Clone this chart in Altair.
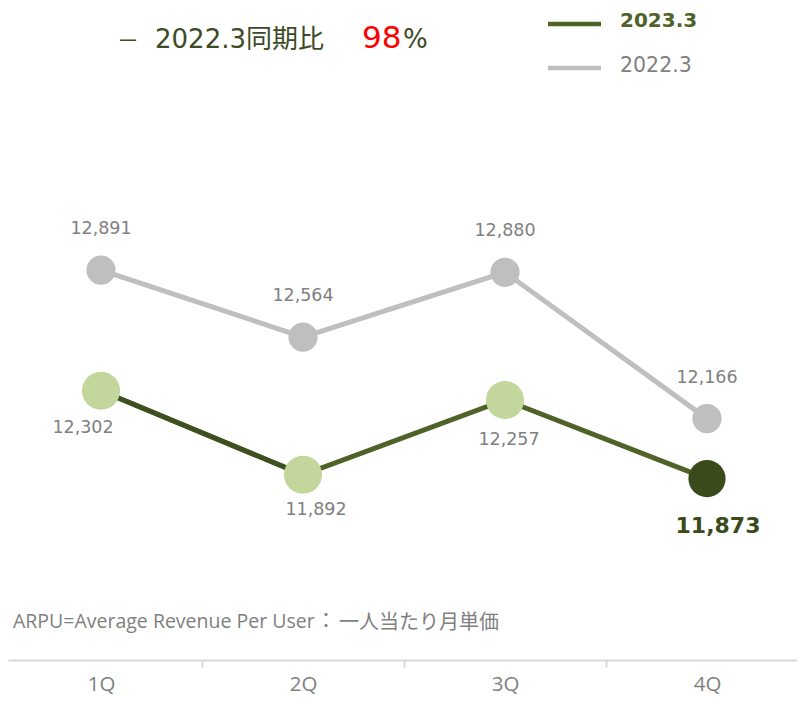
import json
import altair as alt
import pandas as pd

quarters = ["1Q", "2Q", "3Q", "4Q"]
arpu_2023 = [12302, 11892, 12257, 11873]
arpu_2022 = [12891, 12564, 12880, 12166]
series_names = ["2023.3", "2022.3"]

rows = []
for i, q in enumerate(quarters):
    rows.append({"quarter": q, "idx": i, "series": series_names[0], "value": arpu_2023[i]})
    rows.append({"quarter": q, "idx": i, "series": series_names[1], "value": arpu_2022[i]})
df = pd.DataFrame(rows)
df["label"] = df["value"].map(lambda v: f"{v:,}")

GRAY = "#bfbfbf"
OLIVE = "#4f6228"
OLIVE_DARK = "#3f5020"
DARKEST = "#3a4a1b"
LIGHT = "#c3d69b"
TXT = "#808080"

W, H = 789, 652

x_enc = alt.X(
    "idx:Q",
    scale=alt.Scale(domain=[-93 / 202, (W - 93) / 202], nice=False, zero=False),
    axis=alt.Axis(
        values=list(range(len(quarters))),
        labelExpr=f"{json.dumps(quarters)}[datum.value]",
        title=None,
        grid=False,
        tickOffset=-101,
        labelOffset=101,
        tickSize=7,
        tickWidth=2,
        tickColor="#d9d9d9",
        domainColor="#d9d9d9",
        domainWidth=2,
        labelFont="Open Sans",
        labelFontSize=20.5,
        labelColor=TXT,
        labelPadding=7,
    ),
)
y_enc = alt.Y("value:Q", scale=alt.Scale(domain=[10988, 14170], nice=False, zero=False), axis=None)

base = alt.Chart(df).encode(x=x_enc, y=y_enc)
s23 = alt.datum.series == series_names[0]
s22 = alt.datum.series == series_names[1]

line22 = base.transform_filter(s22).mark_line(color=GRAY, strokeWidth=5)
line23 = base.transform_filter(s23).mark_line(color=OLIVE, strokeWidth=5)
line23a = base.transform_filter(s23).transform_filter(alt.datum.idx <= 1).mark_line(color=OLIVE_DARK, strokeWidth=5)
pts22 = base.transform_filter(s22).mark_circle(color=GRAY, size=855, opacity=1)
pts23 = base.transform_filter(s23).transform_filter(alt.datum.idx < 3).mark_circle(color=LIGHT, size=1452, opacity=1)
pts23last = base.transform_filter(s23).transform_filter(alt.datum.idx == 3).mark_circle(color=DARKEST, size=1385, opacity=1)

lab22 = base.transform_filter(s22).mark_text(
    dy=-36, baseline="alphabetic", font="DejaVu Sans", fontSize=17.5, color=TXT
).encode(text="label:N")

offs = [(-18, 42), (13, 40), (4, 45)]
lab23 = []
for i, (dx, dy) in enumerate(offs):
    lab23.append(
        base.transform_filter(s23).transform_filter(alt.datum.idx == i).mark_text(
            dx=dx, dy=dy, baseline="alphabetic", font="DejaVu Sans", fontSize=17.5, color=TXT
        ).encode(text="label:N")
    )
lab23.append(
    base.transform_filter(s23).transform_filter(alt.datum.idx == 3).mark_text(
        dx=11, dy=54, baseline="alphabetic", font="DejaVu Sans", fontSize=22, fontWeight="bold", color=DARKEST
    ).encode(text="label:N")
)


def note(text, x, y, align="left", **kw):
    return alt.Chart(pd.DataFrame({"t": [text]})).mark_text(align=align, baseline="alphabetic", **kw).encode(
        x=alt.value(x), y=alt.value(y), text="t:N"
    )


sub_dash = note("－", 109, 40, font="Noto Sans CJK JP", fontSize=22, color="#3d4a26")
sub_text = note("2022.3同期比", 147, 40, font="DejaVu Sans, Noto Sans CJK JP", fontSize=26, color="#3d4a26")
sub_num = note("98", 354, 40, font="DejaVu Sans", fontSize=31, color="#ff0000")
sub_pct = note("%", 395, 40, font="DejaVu Sans", fontSize=26, color="#3d4a26")

leg_rule1 = alt.Chart(pd.DataFrame({"s": [series_names[0]]})).mark_rule(color=OLIVE, strokeWidth=4.5).encode(
    x=alt.value(540), x2=alt.value(593), y=alt.value(16)
)
leg_rule2 = alt.Chart(pd.DataFrame({"s": [series_names[1]]})).mark_rule(color=GRAY, strokeWidth=4.5).encode(
    x=alt.value(540), x2=alt.value(593), y=alt.value(60)
)
leg_t1 = note(series_names[0], 612, 19, font="DejaVu Sans", fontSize=20, fontWeight="bold", color=OLIVE)
leg_t2 = note(series_names[1], 612, 64, font="DejaVu Sans", fontSize=20.5, color=TXT)

foot1 = note("ARPU=Average Revenue Per User", 5, 620, font="Open Sans", fontSize=19.5, color=TXT)
foot_colon = note("：", 318, 620, align="center", font="Noto Sans CJK JP", fontSize=20, color=TXT)
foot2 = note("一人当たり月単価", 331, 621, font="Noto Sans CJK JP", fontSize=20, color=TXT)

chart = alt.layer(
    line22, line23, line23a, pts22, pts23, pts23last, lab22, *lab23,
    sub_dash, sub_text, sub_num, sub_pct, leg_rule1, leg_rule2, leg_t1, leg_t2,
    foot1, foot_colon, foot2,
).properties(
    width=W,
    height=H,
    autosize=alt.AutoSizeParams(type="none"),
    padding={"left": 0, "top": 0, "right": 0, "bottom": 38},
).configure_view(stroke=None)

chart.save("out.html", embed_options={"renderer": "svg", "actions": False})
